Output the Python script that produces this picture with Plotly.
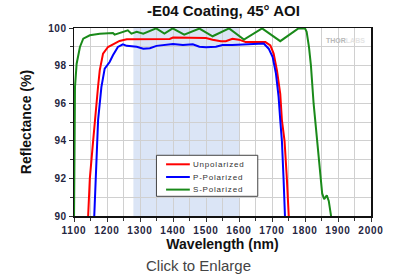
import plotly.graph_objects as go

# Wavelength (nm) and reflectance (%)
unpol_wl = [1130, 1143, 1148, 1158, 1163, 1173, 1178, 1188, 1203, 1223, 1238, 1260, 1300, 1350, 1390,
            1400, 1450, 1500, 1520, 1545, 1560, 1580, 1600, 1620, 1650, 1680, 1695, 1705, 1715, 1725,
            1730, 1738, 1745, 1753, 1765]
unpol_r = [85.0, 90.0, 92.0, 94.0, 95.1, 96.9, 97.75, 98.64, 98.99, 99.17, 99.31, 99.4, 99.4, 99.4, 99.42,
           99.49, 99.5, 99.47, 99.38, 99.3, 99.3, 99.43, 99.38, 99.26, 99.25, 99.25, 99.08, 98.64, 97.75, 96.5,
           95.1, 94.0, 92.0, 90.0, 85.0]

ppol_wl = [1150, 1161, 1165, 1171, 1173, 1183, 1193, 1208, 1218, 1233, 1248, 1260, 1290, 1310, 1330,
           1350, 1380, 1400, 1430, 1460, 1480, 1500, 1530, 1550, 1580, 1600, 1620, 1650, 1675, 1690,
           1702, 1712, 1720, 1725, 1730, 1735, 1740, 1750]
ppol_r = [85.0, 90.0, 92.0, 94.0, 95.1, 96.86, 97.84, 98.19, 98.55, 98.99, 99.13, 99.05, 99.0, 98.9, 98.92,
          99.05, 99.12, 99.15, 99.1, 99.13, 99.0, 98.97, 99.0, 99.1, 99.1, 99.12, 99.15, 99.17, 99.17, 98.9,
          98.46, 97.57, 96.33, 95.1, 94.0, 92.0, 90.0, 85.0]

spol_wl = [1098, 1100, 1102, 1103, 1108, 1113, 1118, 1128, 1148, 1178, 1218, 1223, 1240, 1263, 1274,
           1290, 1310, 1349, 1374, 1399, 1434, 1480, 1520, 1570, 1615, 1670, 1725, 1780, 1800, 1805,
           1812, 1818, 1826, 1836, 1846, 1852, 1858, 1866, 1872, 1879, 1885]
spol_r = [85.0, 90.0, 92.3, 96.86, 98.1, 98.6, 98.99, 99.43, 99.61, 99.7, 99.73, 99.65, 99.75, 99.88, 99.7,
          99.8, 99.7, 99.98, 99.7, 99.98, 99.65, 99.97, 99.56, 99.98, 99.38, 99.98, 99.3, 99.98, 99.98, 99.8,
          99.0, 98.0, 96.0, 94.0, 92.0, 91.2, 90.9, 91.1, 90.8, 90.0, 88.0]

series_names = ["Unpolarized", "P-Polarized", "S-Polarized"]
series_colors = ["#ff0000", "#0000ff", "#1a8a1a"]

band_start, band_end = 1280, 1600

x_ticks = list(range(1100, 2001, 100))
y_ticks = list(range(90, 101, 2))

FONT = "Liberation Sans, Arial, sans-serif"
TICK_COLOR = "#252540"


def spaced(text, px):
    return f"<span style='letter-spacing:{px}px'>{text}</span>"


fig = go.Figure()
for wl, r, name, color in zip([unpol_wl, ppol_wl, spol_wl], [unpol_r, ppol_r, spol_r],
                              series_names, series_colors):
    fig.add_trace(go.Scatter(x=wl, y=r, mode="lines", name=name,
                             line=dict(color=color, width=2), showlegend=False, hoverinfo="skip"))

shapes = [dict(type="rect", xref="x", yref="y", x0=band_start, x1=band_end, y0=90, y1=100,
               fillcolor="#dbe5f6", line=dict(width=0), layer="below")]

# legend box drawn in paper coordinates
shapes.append(dict(type="rect", xref="paper", yref="paper", x0=0.2776, x1=0.6187, y0=0.1048, y1=0.3229,
                   fillcolor="white", line=dict(color="#444444", width=1), layer="above"))
leg_y = [0.275, 0.2074, 0.1404]
annotations = []
for name, color, ly in zip(series_names, series_colors, leg_y):
    shapes.append(dict(type="line", xref="paper", yref="paper", x0=0.310, x1=0.390, y0=ly, y1=ly,
                       line=dict(color=color, width=2), layer="above"))
    annotations.append(dict(text=spaced(name, 0.8), xref="paper", yref="paper", x=0.394, y=ly,
                            xanchor="left", yanchor="middle", showarrow=False,
                            font=dict(family=FONT, size=8, color="#333333")))

annotations += [
    dict(text="Click to Enlarge", xref="paper", yref="paper", x=0.42, y=-0.262,
         xanchor="center", yanchor="middle", showarrow=False,
         font=dict(family=FONT, size=15, color="#444444")),
    dict(text="<b>THOR<span style='color:#e4e4e4'>LABS</span></b>", xref="paper", yref="paper",
         x=0.985, y=0.935, xanchor="right", yanchor="middle", showarrow=False,
         font=dict(family=FONT, size=7, color="#b8b8b8")),
]

tickfont = dict(family=FONT, size=10, color=TICK_COLOR, weight="bold")
titlefont = dict(family=FONT, size=14, color="#111111", weight="bold")

fig.update_layout(
    width=396, height=279,
    margin=dict(l=74, r=23, t=28, b=63),
    paper_bgcolor="white", plot_bgcolor="rgba(0,0,0,0)",
    hovermode=False,
    title=dict(text="-E04 Coating, 45° AOI", x=0.5642, xanchor="center", y=0.96, yanchor="middle",
               font=dict(family=FONT, size=15, color="#111111", weight="bold")),
    showlegend=False,
    shapes=shapes,
    annotations=annotations,
    xaxis=dict(range=[1100, 2000], tickvals=x_ticks, ticktext=[spaced(v, 0.8) for v in x_ticks],
               tickfont=tickfont,
               showgrid=True, gridcolor="#d0d0d0", gridwidth=1,
               minor=dict(dtick=50, tick0=1100, showgrid=True, gridcolor="#d0d0d0", ticks="outside",
                          ticklen=3, tickcolor="#333333"),
               ticks="outside", ticklen=4, tickcolor="#333333",
               showline=True, linecolor="#111111", linewidth=1.5, mirror=True, zeroline=False,
               title=dict(text="Wavelength (nm)", font=titlefont, standoff=4)),
    yaxis=dict(range=[90, 100], tickvals=y_ticks, ticktext=[spaced(v, 0.5) for v in y_ticks],
               tickfont=tickfont,
               showgrid=True, gridcolor="#d0d0d0", gridwidth=1,
               minor=dict(dtick=1, tick0=90, showgrid=True, gridcolor="#d0d0d0", ticks="outside",
                          ticklen=3, tickcolor="#333333"),
               ticks="outside", ticklen=4, tickcolor="#333333",
               showline=True, linecolor="#111111", linewidth=1.5, mirror=True, zeroline=False,
               title=dict(text="Reflectance (%)", font=titlefont, standoff=13)),
)

fig.write_html("out.html", config={"displayModeBar": False, "staticPlot": True},
               post_script="document.body.style.margin='0';")
